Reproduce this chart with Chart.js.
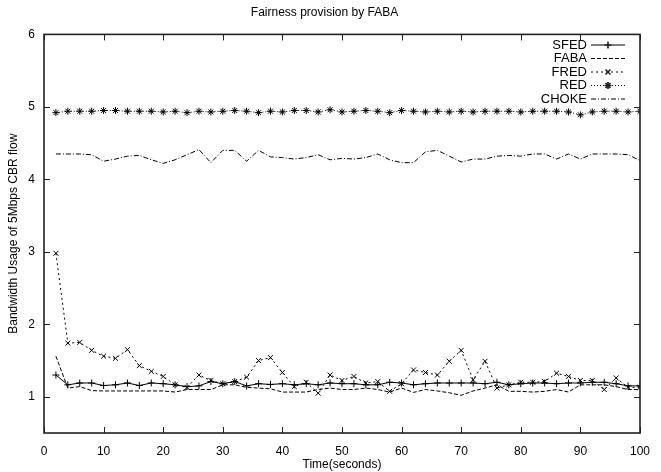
<!DOCTYPE html>
<html>
<head>
<meta charset="utf-8">
<script src="https://cdn.jsdelivr.net/npm/chart.js@4.4.0/dist/chart.umd.min.js"></script>
<style>
  html, body { margin: 0; padding: 0; background: #fff; }
  #wrap { width: 661px; height: 472px; }
</style>
</head>
<body>
<div id="wrap"><canvas id="grafik"></canvas></div>
<script>
const zaman = [2, 4, 6, 8, 10, 12, 14, 16, 18, 20, 22, 24, 26, 28, 30, 32, 34, 36, 38, 40,
  42, 44, 46, 48, 50, 52, 54, 56, 58, 60, 62, 64, 66, 68, 70, 72, 74, 76, 78, 80,
  82, 84, 86, 88, 90, 92, 94, 96, 98, 100];

const sfed = [1.30, 1.165, 1.19, 1.19, 1.155, 1.165, 1.19, 1.155, 1.19, 1.18,
  1.165, 1.14, 1.15, 1.21, 1.18, 1.21, 1.15, 1.18, 1.17, 1.18,
  1.165, 1.18, 1.165, 1.19, 1.18, 1.18, 1.165, 1.165, 1.20, 1.19,
  1.165, 1.18, 1.19, 1.19, 1.19, 1.19, 1.18, 1.20, 1.165, 1.18,
  1.19, 1.19, 1.18, 1.19, 1.19, 1.20, 1.20, 1.18, 1.15, 1.15];

const faba = [1.56, 1.12, 1.14, 1.085, 1.08, 1.08, 1.08, 1.08, 1.08, 1.08,
  1.065, 1.10, 1.10, 1.10, 1.165, 1.165, 1.13, 1.12, 1.11, 1.065,
  1.065, 1.065, 1.10, 1.12, 1.10, 1.10, 1.12, 1.10, 1.065, 1.12,
  1.06, 1.10, 1.08, 1.055, 1.02, 1.08, 1.12, 1.165, 1.075, 1.075,
  1.065, 1.075, 1.10, 1.065, 1.165, 1.165, 1.165, 1.14, 1.10, 1.10];

const fred = [2.98, 1.74, 1.75, 1.64, 1.56, 1.53, 1.65, 1.43, 1.35, 1.28,
  1.165, 1.13, 1.30, 1.225, 1.18, 1.21, 1.27, 1.50, 1.54, 1.335,
  1.14, 1.20, 1.05, 1.30, 1.225, 1.28, 1.19, 1.21, 1.075, 1.18,
  1.37, 1.335, 1.30, 1.49, 1.64, 1.235, 1.49, 1.12, 1.165, 1.20,
  1.20, 1.21, 1.325, 1.28, 1.225, 1.225, 1.10, 1.26, 1.13, 1.13];

const red = [4.92, 4.94, 4.94, 4.94, 4.95, 4.95, 4.94, 4.94, 4.94, 4.93,
  4.94, 4.92, 4.94, 4.93, 4.94, 4.95, 4.94, 4.92, 4.94, 4.93,
  4.95, 4.95, 4.93, 4.96, 4.93, 4.94, 4.95, 4.94, 4.92, 4.95,
  4.94, 4.93, 4.94, 4.93, 4.94, 4.93, 4.94, 4.94, 4.94, 4.93,
  4.94, 4.94, 4.94, 4.93, 4.89, 4.93, 4.94, 4.94, 4.93, 4.94];

const choke = [4.35, 4.35, 4.35, 4.34, 4.25, 4.28, 4.32, 4.33, 4.27, 4.22,
  4.27, 4.34, 4.41, 4.23, 4.40, 4.40, 4.25, 4.40, 4.31, 4.30,
  4.28, 4.30, 4.34, 4.27, 4.29, 4.28, 4.30, 4.35, 4.27, 4.23,
  4.23, 4.38, 4.40, 4.32, 4.24, 4.28, 4.28, 4.32, 4.33, 4.32,
  4.35, 4.35, 4.28, 4.35, 4.28, 4.35, 4.35, 4.35, 4.34, 4.26];

const xEtiket = [0, 10, 20, 30, 40, 50, 60, 70, 80, 90, 100];
const yEtiket = [1, 2, 3, 4, 5, 6];

const yazi = '"Liberation Sans", Arial, Helvetica, sans-serif';

function nokta(seri) {
  return seri.map((v, i) => ({ x: zaman[i], y: v }));
}

// gnuplot tarzı çerçeve, içe dönük çentikler ve sağa yaslı açıklama
const cerceve = {
  id: 'cerceve',
  afterDraw(chart) {
    const c = chart.ctx;
    const a = chart.chartArea;
    const sx = chart.scales.x, sy = chart.scales.y;
    c.save();
    c.strokeStyle = '#222';
    c.lineWidth = 1;
    c.setLineDash([]);
    xEtiket.forEach(v => {
      const p = Math.round(sx.getPixelForValue(v)) + 0.5;
      c.beginPath();
      c.moveTo(p, a.bottom); c.lineTo(p, a.bottom - 6);
      c.moveTo(p, a.top); c.lineTo(p, a.top + 6);
      c.stroke();
    });
    yEtiket.forEach(v => {
      const p = Math.round(sy.getPixelForValue(v)) + 0.5;
      c.beginPath();
      c.moveTo(a.left, p); c.lineTo(a.left + 6, p);
      c.moveTo(a.right, p); c.lineTo(a.right - 6, p);
      c.stroke();
    });
    c.lineWidth = 1.6;
    c.strokeRect(a.left, a.top, a.right - a.left, a.bottom - a.top);

    // açıklama
    c.font = '13px ' + yazi;
    c.fillStyle = '#000';
    c.textAlign = 'right';
    c.textBaseline = 'middle';
    chart.data.datasets.forEach((ds, i) => {
      const yy = 45 + i * 13.5;
      c.fillText(ds.label, a.right - 53, yy);
      c.save();
      c.strokeStyle = ds.borderColor;
      c.lineWidth = ds.borderWidth;
      c.setLineDash(ds.borderDash || []);
      c.beginPath();
      c.moveTo(a.right - 49, yy); c.lineTo(a.right - 15, yy);
      c.stroke();
      c.restore();
      if (ds.pointRadius > 0) {
        Chart.helpers.drawPoint(c, {
          pointStyle: ds.pointStyle, radius: ds.pointRadius, borderWidth: 1
        }, a.right - 32, yy);
      }
    });
    c.restore();
  }
};

const ortak = {
  fill: false,
  tension: 0,
  borderColor: '#000',
  backgroundColor: '#000',
  borderWidth: 1,
  pointBorderWidth: 1,
  pointBorderColor: '#000'
};

new Chart(document.getElementById('grafik').getContext('2d'), {
  type: 'line',
  data: {
    datasets: [
      Object.assign({}, ortak, { label: 'SFED', data: nokta(sfed), pointStyle: 'cross', pointRadius: 3.5 }),
      Object.assign({}, ortak, { label: 'FABA', data: nokta(faba), borderDash: [4, 2], pointRadius: 0 }),
      Object.assign({}, ortak, { label: 'FRED', data: nokta(fred), borderDash: [2, 3], pointStyle: 'crossRot', pointRadius: 3.5 }),
      Object.assign({}, ortak, { label: 'RED', data: nokta(red), borderDash: [1, 2], pointStyle: 'star', pointRadius: 3.5 }),
      Object.assign({}, ortak, { label: 'CHOKE', data: nokta(choke), borderDash: [5, 2, 1, 2], pointRadius: 0 })
    ]
  },
  options: {
    responsive: true,
    maintainAspectRatio: false,
    animation: false,
    layout: { padding: { left: 0, right: 12, top: 0, bottom: 0 } },
    plugins: {
      legend: { display: false },
      tooltip: { enabled: false },
      title: {
        display: true,
        text: 'Fairness provision by FABA',
        color: '#000',
        font: { family: yazi, size: 12, weight: 'normal' },
        padding: { top: 5, bottom: 15 }
      }
    },
    scales: {
      x: {
        type: 'linear',
        min: 0,
        max: 100,
        afterBuildTicks: s => { s.ticks = xEtiket.map(v => ({ value: v })); },
        afterFit: s => { s.height = 39; },
        grid: { display: false, drawTicks: false },
        border: { display: false },
        ticks: { color: '#000', padding: 11, maxRotation: 0, font: { family: yazi, size: 12 } },
        title: {
          display: true,
          text: 'Time(seconds)',
          color: '#000',
          font: { family: yazi, size: 12 },
          padding: { top: 0, bottom: 0 }
        }
      },
      y: {
        min: 0.5,
        max: 6,
        afterBuildTicks: s => { s.ticks = yEtiket.map(v => ({ value: v })); },
        afterFit: s => { s.width = 44; },
        grid: { display: false, drawTicks: false },
        border: { display: false },
        ticks: { color: '#000', padding: 9, font: { family: yazi, size: 12 } },
        title: {
          display: true,
          text: 'Bandwidth Usage of 5Mbps CBR flow',
          color: '#000',
          font: { family: yazi, size: 12 },
          padding: { top: 6, bottom: 0 }
        }
      }
    }
  },
  plugins: [cerceve]
});
</script>
</body>
</html>
